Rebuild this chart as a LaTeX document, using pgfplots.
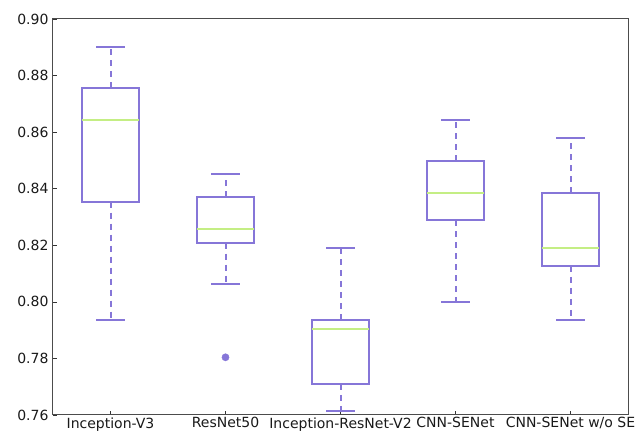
\documentclass[border=0pt]{standalone}
\usepackage{pgfplots}
\pgfplotsset{compat=1.18}
\usepgfplotslibrary{statistics}
\usepackage{fontspec}
\setmainfont{DejaVu Sans}
\definecolor{boxpurple}{RGB}{134,118,216}
\definecolor{medgreen}{RGB}{196,238,132}
\pgfplotsset{
  mybox/.style={
    boxplot/draw direction=y,
    boxplot/box extend=0.5,
    boxplot/whisker extend=0.25,
    boxplot/every box/.style={draw=boxpurple, line width=2pt},
    boxplot/every whisker/.style={draw=boxpurple, line width=2pt},
    boxplot/every median/.style={draw=medgreen, line width=2pt},
    boxplot/draw/lower whisker/.code={
      \draw[boxpurple, line width=2pt, dash pattern=on 6pt off 5pt]
        (boxplot box cs:\pgfplotsboxplotvalue{lower quartile},0.5) --
        (boxplot box cs:\pgfplotsboxplotvalue{lower whisker},0.5);
      \draw[boxpurple, line width=2pt]
        (boxplot whisker cs:\pgfplotsboxplotvalue{lower whisker},0) --
        (boxplot whisker cs:\pgfplotsboxplotvalue{lower whisker},1);
    },
    boxplot/draw/upper whisker/.code={
      \draw[boxpurple, line width=2pt, dash pattern=on 6pt off 5pt]
        (boxplot box cs:\pgfplotsboxplotvalue{upper quartile},0.5) --
        (boxplot box cs:\pgfplotsboxplotvalue{upper whisker},0.5);
      \draw[boxpurple, line width=2pt]
        (boxplot whisker cs:\pgfplotsboxplotvalue{upper whisker},0) --
        (boxplot whisker cs:\pgfplotsboxplotvalue{upper whisker},1);
    },
    boxplot/draw/median/.code={
      \draw[medgreen, line width=2pt]
        (boxplot box cs:\pgfplotsboxplotvalue{median},0) --
        (boxplot box cs:\pgfplotsboxplotvalue{median},1);
    },
  },
}
\begin{document}
\begin{tikzpicture}
\begin{axis}[
  scale only axis,
  width=575pt, height=396pt,
  xmin=0.5, xmax=5.5,
  ymin=0.76, ymax=0.90,
  xtick={1,2,3,4,5},
  xticklabels={Inception-V3,ResNet50,Inception-ResNet-V2,CNN-SENet,CNN-SENet w/o SE},
  ytick={0.76,0.78,0.80,0.82,0.84,0.86,0.88,0.90},
  yticklabel style={/pgf/number format/fixed,
    /pgf/number format/fixed zerofill,
    /pgf/number format/precision=2},
  /pgf/number format/assume math mode=true,
  tick align=inside,
  major tick length=4pt,
  xtick pos=bottom, ytick pos=left,
  tick style={black!80, line width=0.6pt},
  axis line style={black!70, line width=1pt},
  every tick label/.append style={font=\fontsize{14}{16}\selectfont, text=black!90},
  xticklabel style={yshift=1pt},
  yticklabel style={xshift=-1pt},
]
\addplot[mybox, boxplot prepared={draw position=1,
  lower whisker=0.7936, lower quartile=0.8354, median=0.8644,
  upper quartile=0.8757, upper whisker=0.8900}] coordinates {};
\addplot[mybox, mark=*, mark size=3.6pt,
  mark options={draw=boxpurple, fill=boxpurple},
  boxplot prepared={draw position=2,
  lower whisker=0.8063, lower quartile=0.8209, median=0.8256,
  upper quartile=0.8370, upper whisker=0.8452}] coordinates {(0,0.7804)};
\addplot[mybox, boxplot prepared={draw position=3,
  lower whisker=0.7613, lower quartile=0.7710, median=0.7903,
  upper quartile=0.7936, upper whisker=0.8191}] coordinates {};
\addplot[mybox, boxplot prepared={draw position=4,
  lower whisker=0.8000, lower quartile=0.8289, median=0.8385,
  upper quartile=0.8498, upper whisker=0.8644}] coordinates {};
\addplot[mybox, boxplot prepared={draw position=5,
  lower whisker=0.7936, lower quartile=0.8127, median=0.8191,
  upper quartile=0.8386, upper whisker=0.8580}] coordinates {};
\end{axis}
\pgfresetboundingbox
\path[use as bounding box] (current axis.south west) ++(-53pt,-18pt) rectangle ++(635pt,433pt);
\end{tikzpicture}
\end{document}
